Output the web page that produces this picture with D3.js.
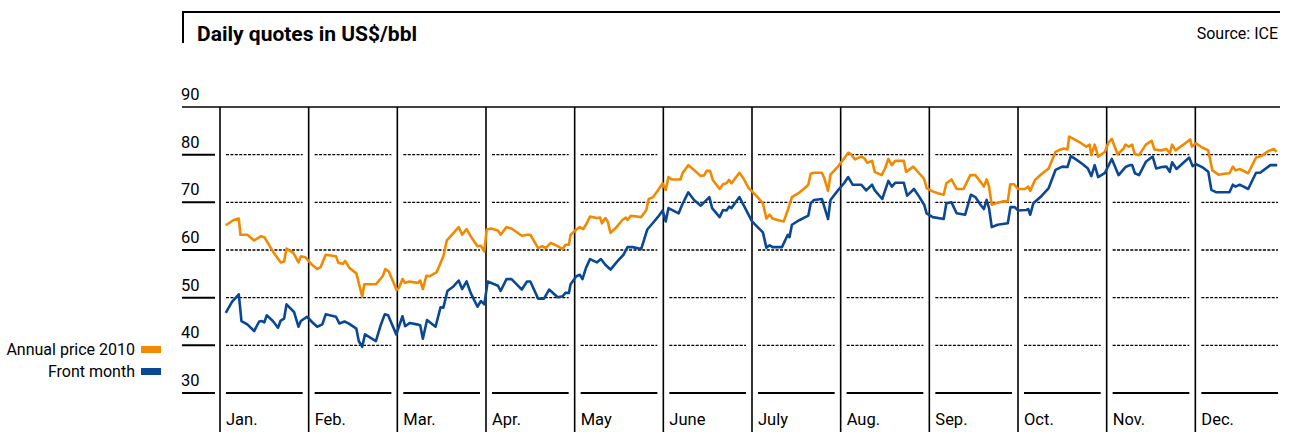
<!DOCTYPE html>
<html>
<head>
<meta charset="utf-8">
<script src="https://cdn.jsdelivr.net/npm/d3@7"></script>
<style>
  body { margin: 0; background: #fff; }
  svg { display: block; font-family: Roboto, "DejaVu Sans", sans-serif; }
</style>
</head>
<body>
<svg id="chart"></svg>
<script>
const months = ["Jan.", "Feb.", "Mar.", "Apr.", "May", "June", "July", "Aug.", "Sep.", "Oct.", "Nov.", "Dec."];
const yTicks = [30, 40, 50, 60, 70, 80, 90];

// position in months (0 = 1 Jan, 12 = 31 Dec)
const annualMonth = [
  0.065,0.154,0.212,0.231,0.308,0.385,0.462,0.5,0.596,0.685,
  0.723,0.75,0.827,0.885,0.912,0.962,1.038,1.096,1.135,1.192,
  1.308,1.335,1.385,1.412,1.462,1.538,1.604,1.627,1.758,1.835,
  1.865,1.904,1.992,2.019,2.058,2.088,2.135,2.231,2.258,2.288,
  2.327,2.365,2.442,2.519,2.558,2.635,2.692,2.731,2.781,2.827,
  2.904,2.942,2.981,3.008,3.058,3.135,3.165,3.231,3.288,3.404,
  3.462,3.5,3.588,3.635,3.673,3.731,3.808,3.865,3.896,3.935,
  3.954,4.019,4.058,4.096,4.127,4.173,4.25,4.288,4.308,4.346,
  4.373,4.404,4.462,4.538,4.577,4.596,4.635,4.75,4.808,4.835,
  4.885,4.942,4.992,5.027,5.058,5.096,5.192,5.219,5.281,5.327,
  5.423,5.462,5.488,5.527,5.558,5.635,5.673,5.712,5.742,5.769,
  5.858,5.904,5.962,
  6.0,6.058,6.123,6.162,6.2,6.231,6.288,6.358,6.404,6.45,
  6.538,6.596,6.635,6.662,6.7,6.788,6.815,6.858,6.885,6.969,
  7.038,7.085,7.115,7.162,7.231,7.269,7.3,7.354,7.385,7.462,
  7.5,7.538,7.577,7.615,7.712,7.738,7.819,7.885,7.942,7.969,
  8.038,8.096,8.162,8.192,8.25,8.308,8.385,8.462,8.519,8.577,
  8.615,8.646,8.673,8.704,8.75,8.827,8.885,8.912,8.954,9.0,
  9.077,9.115,9.138,9.192,9.269,9.346,9.423,9.481,9.519,9.558,
  9.577,9.646,9.712,9.769,9.808,9.827,9.865,9.904,9.981,10.019,
  10.058,10.123,10.192,10.212,10.25,10.288,10.315,10.365,10.442,10.508,
  10.538,10.615,10.673,10.712,10.738,10.777,10.865,10.942,10.962,11.008,
  11.077,11.146,11.192,11.262,11.327,11.385,11.423,11.454,11.5,11.596,
  11.685,11.731,11.827,11.885,11.915
];
const annualPrice = [
  65.2,66.3,66.6,63.2,63.2,62.0,62.9,62.7,59.7,57.4,
  57.6,60.3,59.4,57.4,58.7,58.5,56.9,56.0,56.4,59.0,
  58.7,57.3,57.1,57.7,56.2,55.1,50.2,52.8,52.8,54.5,
  56.0,55.5,51.6,52.1,53.9,53.1,53.4,53.1,53.6,51.8,
  54.6,54.5,55.3,58.7,62.0,63.6,64.8,63.2,64.4,62.9,
  60.8,60.9,59.7,64.3,64.5,64.1,63.2,64.8,64.5,63.0,
  63.2,63.2,60.4,60.8,60.4,61.5,60.8,60.2,61.1,61.1,
  63.2,64.3,64.8,64.4,65.3,67.0,66.7,66.8,65.6,66.7,
  66.0,63.6,64.6,66.3,66.8,66.3,67.2,66.9,68.4,70.7,
  71.1,72.6,74.0,72.6,75.3,74.8,74.8,76.2,77.8,77.1,
  75.5,75.7,76.6,76.6,74.7,72.8,73.8,74.0,74.7,74.0,
  76.2,75.0,73.0,
  72.3,71.2,69.8,66.6,67.4,66.6,66.3,66.0,68.4,71.1,
  72.1,73.0,73.7,76.0,76.2,76.2,75.1,72.4,75.8,77.5,
  79.2,80.4,80.1,79.0,79.6,79.2,78.3,78.7,76.4,75.7,
  77.1,79.1,77.8,78.7,78.7,76.4,77.5,76.1,74.9,73.0,
  72.3,71.9,71.6,74.0,74.8,72.8,72.8,75.7,75.7,74.3,
  73.3,74.8,73.3,69.5,69.8,70.2,70.2,73.8,73.8,72.8,
  72.8,73.3,72.4,74.7,76.0,77.1,80.6,81.1,81.3,81.1,
  83.8,83.1,82.4,81.7,82.1,79.9,82.1,79.6,80.6,82.5,
  83.3,80.1,81.3,82.1,81.7,82.1,80.2,79.9,82.1,82.9,
  81.1,80.9,81.2,80.3,82.1,80.9,82.1,83.2,81.7,82.4,
  81.5,80.9,76.7,75.8,76.0,76.1,77.5,76.7,77.0,76.1,
  79.4,79.6,80.8,81.2,80.6
];

const frontMonth = [
  0.065,0.135,0.212,0.242,0.308,0.385,0.442,0.473,0.5,0.527,
  0.596,0.654,0.685,0.723,0.75,0.835,0.885,0.912,0.981,1.038,
  1.096,1.154,1.192,1.308,1.346,1.404,1.45,1.538,1.565,1.604,
  1.635,1.758,1.808,1.858,1.896,1.988,2.058,2.088,2.142,2.219,
  2.258,2.288,2.335,2.431,2.488,2.519,2.565,2.635,2.692,2.731,
  2.781,2.827,2.904,2.942,2.981,3.019,3.135,3.165,3.231,3.288,
  3.404,3.462,3.5,3.588,3.654,3.712,3.808,3.865,3.896,3.935,
  3.954,4.019,4.058,4.088,4.127,4.173,4.25,4.296,4.346,4.404,
  4.481,4.55,4.596,4.654,4.75,4.819,4.865,4.942,4.992,5.027,
  5.058,5.173,5.212,5.281,5.346,5.423,5.519,5.55,5.635,5.673,
  5.712,5.742,5.769,5.858,5.923,
  6.0,6.058,6.123,6.162,6.2,6.231,6.338,6.404,6.423,6.45,
  6.538,6.635,6.662,6.7,6.788,6.815,6.858,6.885,6.969,7.038,
  7.085,7.135,7.231,7.288,7.354,7.385,7.469,7.538,7.577,7.615,
  7.712,7.75,7.827,7.885,7.942,7.969,8.038,8.162,8.192,8.25,
  8.308,8.404,8.469,8.519,8.577,8.615,8.646,8.673,8.704,8.769,
  8.885,8.915,8.962,9.0,9.096,9.115,9.138,9.173,9.269,9.346,
  9.423,9.5,9.558,9.596,9.654,9.731,9.788,9.827,9.865,9.904,
  9.981,10.058,10.135,10.212,10.262,10.288,10.319,10.365,10.442,10.519,
  10.558,10.623,10.673,10.712,10.738,10.788,10.865,10.931,10.969,11.008,
  11.077,11.146,11.181,11.238,11.385,11.423,11.454,11.5,11.596,11.685,
  11.731,11.846,11.923
];
const frontPrice = [
  46.8,49.1,50.7,45.1,44.4,43.0,45.0,45.1,44.8,46.3,
  45.1,43.7,45.2,45.6,48.6,47.0,43.9,45.1,46.0,44.9,
  43.9,44.4,46.5,46.0,44.6,45.0,44.6,43.5,40.9,39.7,
  42.3,40.9,44.0,46.5,46.3,42.3,46.1,44.0,44.7,44.4,
  44.2,41.4,45.3,43.9,48.0,47.9,51.4,52.4,53.6,51.8,
  53.4,51.0,48.1,49.3,48.6,53.4,52.5,51.4,53.9,53.9,
  51.7,53.4,53.4,49.8,49.8,51.7,50.1,50.3,51.0,51.0,
  52.8,54.5,54.8,53.9,56.2,58.1,57.4,58.1,56.9,55.9,
  57.6,59.0,60.6,60.6,60.2,64.3,65.3,67.0,68.3,66.0,
  68.8,67.7,69.5,72.1,70.5,69.3,71.1,68.8,66.9,68.4,
  68.3,69.1,68.8,71.1,68.8,
  66.0,64.9,63.7,60.5,61.0,60.6,60.6,63.2,62.7,65.3,
  66.3,67.2,69.8,70.5,70.7,69.1,66.5,70.5,72.5,74.0,
  75.3,73.7,73.7,72.5,73.7,72.5,70.7,74.5,73.3,74.1,
  74.1,71.4,72.8,71.2,69.5,67.7,66.9,66.5,69.8,70.0,
  67.7,67.4,71.6,71.1,69.5,68.6,70.5,68.8,64.8,65.3,
  65.6,69.0,69.0,68.3,68.4,68.6,67.4,69.8,71.4,73.0,
  76.8,77.5,77.4,79.7,79.0,78.0,77.1,75.5,77.8,75.3,
  76.2,79.1,75.7,77.4,77.8,77.8,76.1,75.7,78.5,79.6,
  77.1,77.4,77.5,76.4,78.4,77.0,78.3,79.4,77.6,78.0,
  77.4,76.4,72.6,72.1,72.1,73.7,73.3,73.7,72.8,76.2,
  76.2,77.8,77.8
];

const orange = "#f18a00";
const blue = "#0b4894";

const width = 1290;
const height = 432;

const svg = d3.select("#chart")
  .attr("width", width)
  .attr("height", height);

const x = d3.scaleLinear().domain([0, 12]).range([220, 1284]);
const y = d3.scaleLinear().domain([30, 90]).range([393, 107]);

// header frame
svg.append("line")
  .attr("x1", 182).attr("x2", 1280)
  .attr("y1", 12).attr("y2", 12)
  .attr("stroke", "#000").attr("stroke-width", 2);
svg.append("line")
  .attr("x1", 183).attr("x2", 183)
  .attr("y1", 11).attr("y2", 43)
  .attr("stroke", "#000").attr("stroke-width", 2);

svg.append("text")
  .attr("x", 197).attr("y", 41)
  .attr("font-size", 21).attr("font-weight", "bold")
  .text("Daily quotes in US$/bbl");

svg.append("text")
  .attr("x", 1278).attr("y", 39)
  .attr("font-size", 16).attr("text-anchor", "end")
  .text("Source: ICE");

// top border at 90
svg.append("line")
  .attr("x1", 182).attr("x2", 1280)
  .attr("y1", y(90)).attr("y2", y(90))
  .attr("stroke", "#000").attr("stroke-width", 1.6);

// y labels and short ticks on the left
const yAxis = svg.append("g");
yAxis.selectAll("text")
  .data(yTicks)
  .enter()
  .append("text")
  .attr("x", 181)
  .attr("y", (d) => y(d) - 7)
  .attr("font-size", 16.5)
  .text((d) => d);

yAxis.selectAll("line")
  .data(yTicks.filter((d) => d < 90))
  .enter()
  .append("line")
  .attr("x1", 182).attr("x2", 215)
  .attr("y1", (d) => y(d)).attr("y2", (d) => y(d))
  .attr("stroke", "#000").attr("stroke-width", 2);

// grid inside each month cell
const cells = svg.append("g")
  .selectAll("g")
  .data(months)
  .enter()
  .append("g");

cells.each(function(m, i) {
  const cell = d3.select(this);
  const x0 = x(i) + 6;
  const x1 = x(i + 1) - 6;

  cell.selectAll("line.grid")
    .data(yTicks.filter((d) => d > 30 && d < 90))
    .enter()
    .append("line")
    .attr("class", "grid")
    .attr("x1", x0).attr("x2", x1)
    .attr("y1", (d) => y(d)).attr("y2", (d) => y(d))
    .attr("stroke", "#000")
    .attr("stroke-width", 1.4)
    .attr("stroke-dasharray", "3,1.4");

  cell.append("line")
    .attr("x1", x0).attr("x2", x1)
    .attr("y1", y(30)).attr("y2", y(30))
    .attr("stroke", "#000").attr("stroke-width", 2);

  cell.append("line")
    .attr("x1", x(i)).attr("x2", x(i))
    .attr("y1", y(90)).attr("y2", height)
    .attr("stroke", "#000").attr("stroke-width", 1.6);

  cell.append("text")
    .attr("x", x(i) + 6)
    .attr("y", 425)
    .attr("font-size", 16.5)
    .text(m);
});

// lines
const line = d3.line()
  .x((d) => x(d[0]))
  .y((d) => y(d[1]));

svg.append("path")
  .datum(d3.zip(annualMonth, annualPrice))
  .attr("fill", "none")
  .attr("stroke", orange)
  .attr("stroke-width", 2.6)
  .attr("stroke-linejoin", "round")
  .attr("d", line);

svg.append("path")
  .datum(d3.zip(frontMonth, frontPrice))
  .attr("fill", "none")
  .attr("stroke", blue)
  .attr("stroke-width", 2.6)
  .attr("stroke-linejoin", "round")
  .attr("d", line);

// legend
const legendItems = [
  { name: "Annual price 2010", color: orange },
  { name: "Front month", color: blue }
];

const legend = svg.append("g")
  .selectAll("g")
  .data(legendItems)
  .enter()
  .append("g")
  .attr("transform", (d, i) => `translate(0,${346 + i * 22})`);

legend.append("rect")
  .attr("x", 141)
  .attr("width", 20)
  .attr("height", 7)
  .attr("fill", (d) => d.color);

legend.append("text")
  .attr("x", 135)
  .attr("y", 9)
  .attr("font-size", 16)
  .attr("text-anchor", "end")
  .text((d) => d.name);
</script>
</body>
</html>
